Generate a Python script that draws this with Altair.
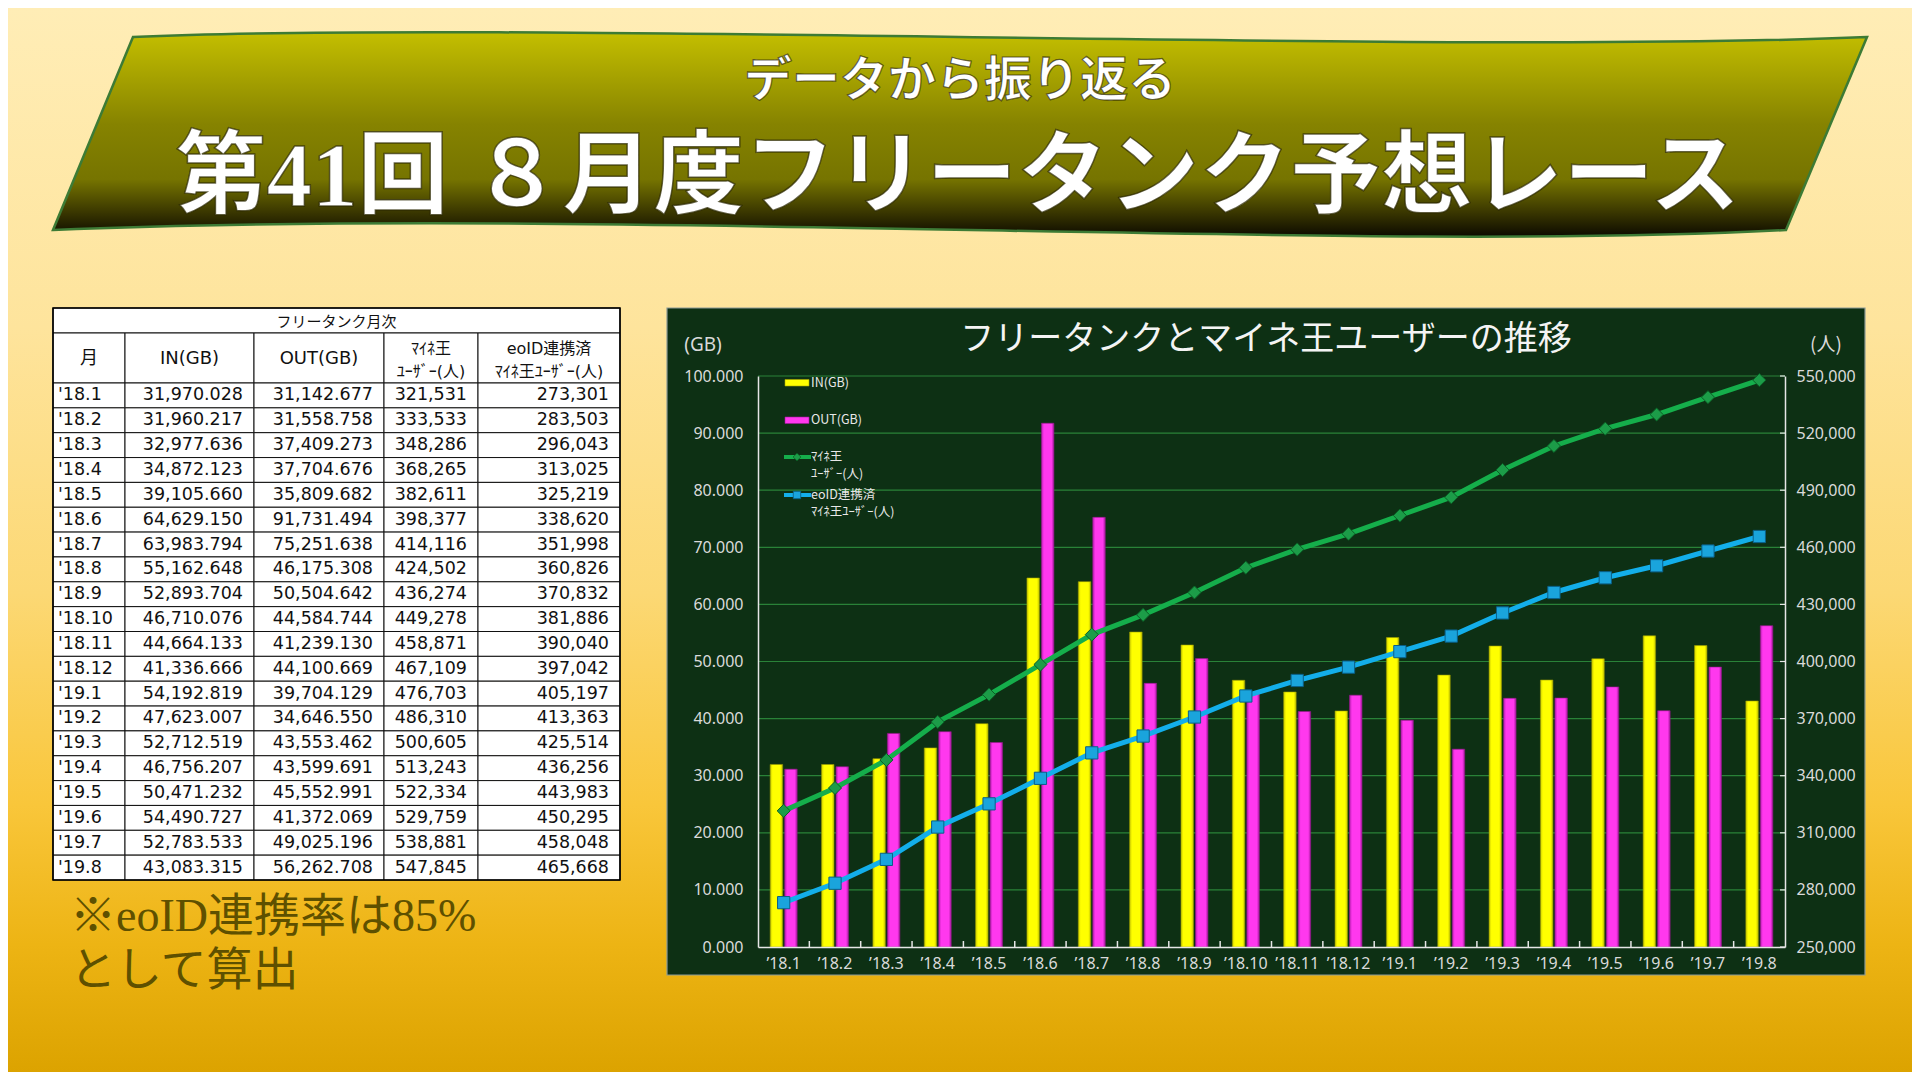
import altair as alt
import pandas as pd

# ---------------- data ----------------
MONTHS = ["'18.1", "'18.2", "'18.3", "'18.4", "'18.5", "'18.6", "'18.7", "'18.8",
          "'18.9", "'18.10", "'18.11", "'18.12", "'19.1", "'19.2", "'19.3", "'19.4",
          "'19.5", "'19.6", "'19.7", "'19.8"]
IN_GB = [31970.028, 31960.217, 32977.636, 34872.123, 39105.660, 64629.150, 63983.794,
         55162.648, 52893.704, 46710.076, 44664.133, 41336.666, 54192.819, 47623.007,
         52712.519, 46756.207, 50471.232, 54490.727, 52783.533, 43083.315]
OUT_GB = [31142.677, 31558.758, 37409.273, 37704.676, 35809.682, 91731.494, 75251.638,
          46175.308, 50504.642, 44584.744, 41239.130, 44100.669, 39704.129, 34646.550,
          43553.462, 43599.691, 45552.991, 41372.069, 49025.196, 56262.708]
USERS = [321531, 333533, 348286, 368265, 382611, 398377, 414116, 424502, 436274, 449278,
         458871, 467109, 476703, 486310, 500605, 513243, 522334, 529759, 538881, 547845]
EOID_USERS = [273301, 283503, 296043, 313025, 325219, 338620, 351998, 360826, 370832,
              381886, 390040, 397042, 405197, 413363, 425514, 436256, 443983, 450295,
              458048, 465668]

SUBTITLE = "データから振り返る"
TITLE = "第41回 ８月度フリータンク予想レース"
TABLE_TITLE = "フリータンク月次"
TABLE_HEADERS = [["月"], ["IN(GB)"], ["OUT(GB)"], ["ﾏｲﾈ王", "ﾕｰｻﾞｰ(人)"],
                 ["eoID連携済", "ﾏｲﾈ王ﾕｰｻﾞｰ(人)"]]
NOTE_LINES = ["※eoID連携率は85%", "として算出"]
CHART_TITLE = "フリータンクとマイネ王ユーザーの推移"
LEFT_UNIT = "(GB)"
RIGHT_UNIT = "(人)"
SERIES = ["IN", "OUT"]
LEGEND_TEXT = [["IN(GB)"], ["OUT(GB)"], ["ﾏｲﾈ王", "ﾕｰｻﾞｰ(人)"], ["eoID連携済", "ﾏｲﾈ王ﾕｰｻﾞｰ(人)"]]
GB_TICKS = [0, 10000, 20000, 30000, 40000, 50000, 60000, 70000, 80000, 90000, 100000]
USER_TICKS = [250000, 280000, 310000, 340000, 370000, 400000, 430000, 460000, 490000,
              520000, 550000]

# ---------------- layout (page pixels) ----------------
W, H = 1904, 1064
OFF8 = 8


def P(v):
    return v - OFF8


COL_EDGES = [53, 125, 254, 384, 478, 620]
TABLE_TOP, HEAD_TOP, BODY_TOP, BODY_BOTTOM = 308, 333, 383, 880
PLOT_L, PLOT_R, PLOT_T, PLOT_B = 758, 1785, 376, 947
BOX_L, BOX_T, BOX_R, BOX_B = 667, 308, 1865, 975

JP = "Noto Sans CJK JP"
SERIF = "'Liberation Serif', 'Noto Sans CJK JP'"
NUMF = "'DejaVu Sans', 'Noto Sans CJK JP'"
AXF = "Noto Sans"
LABEL_C = "#DADADA"

YELLOW = "#FFFF00"
MAGENTA = "#FF38EE"
GREEN = "#15AE4B"
BLUE = "#13AEEA"


def lin(stops, horizontal=False):
    return {"gradient": "linear", "x1": 0, "y1": 0,
            "x2": 1 if horizontal else 0, "y2": 0 if horizontal else 1,
            "stops": [{"offset": o, "color": c} for o, c in stops]}


BG_GRAD = lin([(0, "#FFEDB6"), (0.3, "#FEE49C"), (0.55, "#FCD874"),
               (0.75, "#F9C63A"), (0.88, "#EDB414"), (1, "#DCA300")])
BANNER_GRAD = lin([(0, "#C4BF00"), (0.45, "#868300"), (0.72, "#767400"),
                   (0.88, "#3A3700"), (1, "#0C0A00")])
YEL_GRAD = lin([(0, "#CFCF00"), (0.2, YELLOW), (0.8, YELLOW), (1, "#C4C400")], True)
MAG_GRAD = lin([(0, "#B81EB0"), (0.2, MAGENTA), (0.8, MAGENTA), (1, "#A81AA0")], True)

BANNER_PATH = "M -827 -98 C -450 -115 500 -80 907 -98 L 826 95 C 400 118 -350 72 -907 95 Z"

ONE = pd.DataFrame({"k": [0]})
PX = alt.Scale(domain=[0, W], range=[0, W], nice=False, zero=False)
PY = alt.Scale(domain=[0, H], range=[0, H], nice=False, zero=False)


def vx(v):
    return alt.value(P(v))


def text(t, x, y, size, color, font=JP, weight="normal", align="center",
         baseline="middle", dx=0, dy=0, opacity=1, **extra):
    return alt.Chart(ONE).mark_text(
        text=t, font=font, fontSize=size, fontWeight=weight, color=color,
        align=align, baseline=baseline, dx=dx, dy=dy, opacity=opacity, **extra
    ).encode(x=vx(x), y=vx(y))


def box(x0, y0, x1, y1, **kw):
    return alt.Chart(ONE).mark_rect(**kw).encode(x=vx(x0), x2=vx(x1), y=vx(y0), y2=vx(y1))


layers = []

# background + banner
layers.append(alt.Chart(ONE).mark_rect(fill=BG_GRAD).encode(
    x=alt.value(0), x2=alt.value(W), y=alt.value(0), y2=alt.value(H)))
layers.append(alt.Chart(ONE).mark_point(
    shape=BANNER_PATH, size=4, filled=True, fill=BANNER_GRAD, stroke="#3D7B35",
    strokeWidth=2.5, opacity=1).encode(x=vx(960), y=vx(135)))

# titles (white with a thin dark outline)
layers.append(text(SUBTITLE, 960, 82, 48, "#FFFFFF", weight="bold",
                   stroke="#2A2600", strokeWidth=1.2, strokeOpacity=0.7))
layers.append(text(TITLE, 958, 179, 91, "#FFFFFF", font=SERIF, weight="bold",
                   stroke="#2A2600", strokeWidth=1.5, strokeOpacity=0.7))

# ---------------- table ----------------
ROW_Y = alt.Scale(type="band", domain=MONTHS, range=[P(BODY_TOP), P(BODY_BOTTOM)],
                  paddingInner=0, paddingOuter=0)

layers.append(box(COL_EDGES[0], TABLE_TOP, COL_EDGES[-1], HEAD_TOP,
                  fill="white", stroke="#111111", strokeWidth=1))
head_cells = pd.DataFrame({"x0": [P(c) for c in COL_EDGES[:-1]],
                           "x1": [P(c) for c in COL_EDGES[1:]],
                           "y0": P(HEAD_TOP), "y1": P(BODY_TOP)})
layers.append(alt.Chart(head_cells).mark_rect(fill="white", stroke="#111111", strokeWidth=1).encode(
    x=alt.X("x0:Q", scale=PX, axis=None), x2="x1:Q",
    y=alt.Y("y0:Q", scale=PY, axis=None), y2="y1:Q"))

cells = []
for m in MONTHS:
    for c in range(5):
        cells.append({"m": m, "x0": P(COL_EDGES[c]), "x1": P(COL_EDGES[c + 1])})
layers.append(alt.Chart(pd.DataFrame(cells)).mark_rect(fill="white", stroke="#111111", strokeWidth=1).encode(
    x=alt.X("x0:Q", scale=PX, axis=None), x2="x1:Q",
    y=alt.Y("m:N", scale=ROW_Y, axis=None)))
# outer border
layers.append(box(COL_EDGES[0], TABLE_TOP, COL_EDGES[-1], BODY_BOTTOM,
                  fill="transparent", stroke="#000000", strokeWidth=1.6))

layers.append(text(TABLE_TITLE, (COL_EDGES[0] + COL_EDGES[-1]) / 2, 322, 15, "#111111"))
for c, lines in enumerate(TABLE_HEADERS):
    cx = (COL_EDGES[c] + COL_EDGES[c + 1]) / 2
    if len(lines) == 1:
        layers.append(text(lines[0], cx, 359, 18, "#111111", font=NUMF))
    else:
        layers.append(text(lines[0], cx, 349, 16, "#111111", font=NUMF))
        layers.append(text(lines[1], cx, 372, 16, "#111111", font=NUMF))

tbl = pd.DataFrame({
    "m": MONTHS,
    "c1": [f"{v:,.3f}" for v in IN_GB],
    "c2": [f"{v:,.3f}" for v in OUT_GB],
    "c3": [f"{v:,}" for v in USERS],
    "c4": [f"{v:,}" for v in EOID_USERS],
})
tbl["xm"] = P(COL_EDGES[0] + 5)
for c in range(1, 5):
    tbl[f"x{c}"] = P(COL_EDGES[c + 1] - 11)

layers.append(alt.Chart(tbl).mark_text(font=NUMF, fontSize=17.5, color="#111111",
                                       align="left", baseline="middle").encode(
    x=alt.X("xm:Q", scale=PX, axis=None), y=alt.Y("m:N", scale=ROW_Y, axis=None), text="m:N"))
for c in range(1, 5):
    layers.append(alt.Chart(tbl).mark_text(font=NUMF, fontSize=17.5, color="#111111",
                                           align="right", baseline="middle").encode(
        x=alt.X(f"x{c}:Q", scale=PX, axis=None), y=alt.Y("m:N", scale=ROW_Y, axis=None),
        text=f"c{c}:N"))

# note
layers.append(text(NOTE_LINES[0], 70, 917, 46, "#5E5000", font=SERIF, align="left"))
layers.append(text(NOTE_LINES[1], 70, 971, 46, "#5E5000", font=SERIF, align="left"))

# ---------------- chart ----------------
layers.append(box(BOX_L, BOX_T, BOX_R, BOX_B, fill="#0D3014", stroke="#8C9A96", strokeWidth=1.2))

X_BAND = alt.Scale(type="band", domain=MONTHS, range=[P(PLOT_L), P(PLOT_R)],
                   paddingInner=0, paddingOuter=0)
OFF = alt.Scale(domain=SERIES, paddingInner=0.14, paddingOuter=0.84)
Y_GB = alt.Scale(domain=[0, 100000], range=[P(PLOT_B), P(PLOT_T)], nice=False, zero=True)
Y_U = alt.Scale(domain=[250000, 550000], range=[P(PLOT_B), P(PLOT_T)], nice=False, zero=False)

X_AXIS = alt.Axis(orient="bottom", offset=P(PLOT_B) - H, title=None, labelAngle=0,
                  labelExpr="'’' + substring(datum.label, 1)", labelColor=LABEL_C,
                  labelFont=AXF, labelFontSize=16, labelPadding=8, ticks=False,
                  domainColor="#E6E6E6", domainWidth=1.5, grid=False, zindex=2,
                  labelOverlap=False)
Y_LEFT = alt.Axis(orient="left", offset=-P(PLOT_L), title=None, values=GB_TICKS,
                  labelExpr="format(datum.value / 1000, '.3f')", labelColor=LABEL_C,
                  labelFont=AXF, labelFontSize=16, labelPadding=15, ticks=False,
                  domainColor="#E6E6E6", domainWidth=1.5, grid=False, zindex=2,
                  labelOverlap=False)
Y_RIGHT = alt.Axis(orient="right", offset=P(PLOT_R) - W, title=None, values=USER_TICKS,
                   labelExpr="format(datum.value, ',')", labelColor=LABEL_C,
                   labelFont=AXF, labelFontSize=16,
                   labelPadding=11, ticks=False, domainColor="#E6E6E6", domainWidth=1.5,
                   grid=False, zindex=2, labelOverlap=False)

grid_df = pd.DataFrame({"v": GB_TICKS[1:]})
layers.append(alt.Chart(grid_df).mark_rule(color="#2C8C3C", strokeWidth=1.2, opacity=0.9).encode(
    x=vx(PLOT_L), x2=vx(PLOT_R), y=alt.Y("v:Q", scale=Y_GB, axis=None)))

bars_df = pd.DataFrame({"month": MONTHS * 2,
                        "series": ["IN"] * len(MONTHS) + ["OUT"] * len(MONTHS),
                        "gb": IN_GB + OUT_GB})
layers.append(alt.Chart(bars_df[bars_df.series == "IN"]).mark_bar(
    fill=YEL_GRAD, stroke="#9A9A00", strokeWidth=0.6).encode(
    x=alt.X("month:N", scale=X_BAND, axis=X_AXIS),
    xOffset=alt.XOffset("series:N", scale=OFF),
    y=alt.Y("gb:Q", scale=Y_GB, axis=Y_LEFT)))
layers.append(alt.Chart(bars_df[bars_df.series == "OUT"]).mark_bar(
    fill=MAG_GRAD, stroke="#9A1890", strokeWidth=0.6).encode(
    x=alt.X("month:N", scale=X_BAND, axis=None),
    xOffset=alt.XOffset("series:N", scale=OFF),
    y=alt.Y("gb:Q", scale=Y_GB, axis=None)))

users_df = pd.DataFrame({"month": MONTHS, "idx": list(range(len(MONTHS))),
                         "users": USERS, "eoid": EOID_USERS})
layers.append(alt.Chart(users_df).mark_line(color=GREEN, strokeWidth=5).encode(
    x=alt.X("month:N", scale=X_BAND, axis=None),
    y=alt.Y("users:Q", scale=Y_U, axis=Y_RIGHT), order="idx:Q"))
layers.append(alt.Chart(users_df).mark_point(
    shape="diamond", filled=True, size=170, fill="#1C9C48", stroke="#0B5F26",
    strokeWidth=1, opacity=1).encode(
    x=alt.X("month:N", scale=X_BAND, axis=None),
    y=alt.Y("users:Q", scale=Y_U, axis=None)))
layers.append(alt.Chart(users_df).mark_line(color=BLUE, strokeWidth=5).encode(
    x=alt.X("month:N", scale=X_BAND, axis=None),
    y=alt.Y("eoid:Q", scale=Y_U, axis=None), order="idx:Q"))
layers.append(alt.Chart(users_df).mark_point(
    shape="square", filled=True, size=150, fill="#1AA4DC", stroke="#0A5F88",
    strokeWidth=1, opacity=1).encode(
    x=alt.X("month:N", scale=X_BAND, axis=None),
    y=alt.Y("eoid:Q", scale=Y_U, axis=None)))

# inward ticks
tick_df = pd.DataFrame({"month": MONTHS[1:]})
layers.append(alt.Chart(tick_df).mark_rule(color="#E6E6E6", strokeWidth=1.5).encode(
    x=alt.X("month:N", scale=X_BAND, axis=None, bandPosition=0),
    y=vx(PLOT_B), y2=vx(PLOT_B - 6)))
rt_df = pd.DataFrame({"v": USER_TICKS})
layers.append(alt.Chart(rt_df).mark_rule(color="#E6E6E6", strokeWidth=1.2).encode(
    x=vx(PLOT_R - 5), x2=vx(PLOT_R), y=alt.Y("v:Q", scale=Y_U, axis=None)))

# chart texts
layers.append(text(CHART_TITLE, 1266, 340, 34, "#F4F4F4"))
layers.append(text(LEFT_UNIT, 703, 345, 19, LABEL_C, font=AXF))
layers.append(text(RIGHT_UNIT, 1826, 345, 19, LABEL_C))

# legend
layers.append(box(785, 379.5, 809, 386, fill=YELLOW, stroke="#A8A800", strokeWidth=0.6))
layers.append(box(785, 417, 809, 423.5, fill=MAGENTA, stroke="#A01898", strokeWidth=0.6))
layers.append(alt.Chart(ONE).mark_rule(color=GREEN, strokeWidth=4).encode(
    x=vx(784), x2=vx(811), y=vx(457)))
layers.append(alt.Chart(ONE).mark_point(shape="diamond", filled=True, size=60, fill="#1C9C48",
                                        stroke="#0B5F26", strokeWidth=0.8, opacity=1).encode(
    x=vx(797), y=vx(457)))
layers.append(alt.Chart(ONE).mark_rule(color=BLUE, strokeWidth=4).encode(
    x=vx(784), x2=vx(811), y=vx(495)))
layers.append(alt.Chart(ONE).mark_point(shape="square", filled=True, size=55, fill="#1AA4DC",
                                        stroke="#0A5F88", strokeWidth=0.8, opacity=1).encode(
    x=vx(797), y=vx(495)))
LEG_Y = [383, 420, 457, 495]
for t, y in zip(LEGEND_TEXT, LEG_Y):
    for j, line in enumerate(t):
        layers.append(text(line, 811, y + j * 17, 12.5, "#E8E8E8", align="left"))

chart = alt.layer(*layers).resolve_scale(
    x="independent", y="independent", xOffset="independent"
).properties(
    width=W, height=H, autosize=alt.AutoSizeParams(type="none"), padding=0
).configure_view(strokeWidth=0).configure(background="#FFEDB6")

chart.save("out.html", embed_options={"renderer": "svg", "actions": False})
